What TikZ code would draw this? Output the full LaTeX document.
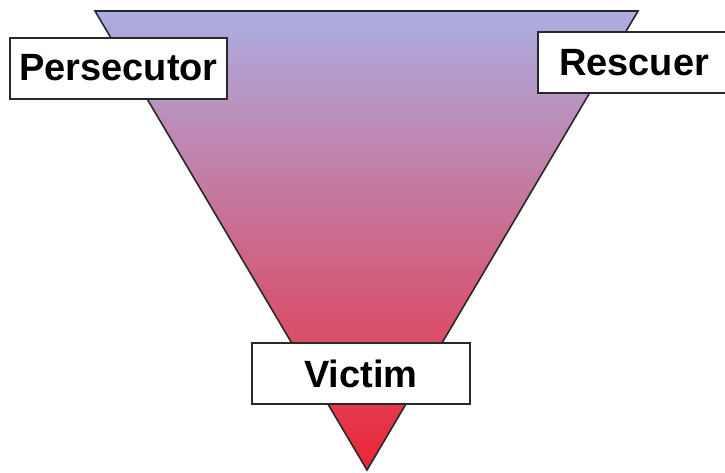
\documentclass[tikz,border=0pt]{standalone}
\usepackage{fontspec}
\setmainfont{Liberation Sans}
\definecolor{topc}{RGB}{172,174,226}
\definecolor{botc}{RGB}{236,38,54}
\definecolor{edge}{RGB}{40,40,40}
\begin{document}
\begin{tikzpicture}[x=1pt,y=-1pt,
  rolebox/.style={draw=edge,line width=2pt,fill=white,inner sep=0pt,font=\fontsize{38}{40}\selectfont\bfseries},
]
\useasboundingbox (0,0) rectangle (725,472);
\coordinate (tl) at (95,11);
\coordinate (tr) at (638,11);
\coordinate (ap) at (367,470);
\shade[top color=topc,bottom color=botc] (tl) -- (tr) -- (ap) -- cycle;
\draw[edge,line width=1.6pt,line join=miter] (tl) -- (tr) -- (ap) -- cycle;
\node[rolebox,minimum width=217pt,minimum height=61pt] (pers) at (118.5,68) {Persecutor};
\node[rolebox,minimum width=192pt,minimum height=61pt,anchor=west,text width=192pt,align=left] (resc) at (537,62.5) {\hspace*{21pt}Rescuer};
\node[rolebox,minimum width=218pt,minimum height=61pt] (vict) at (361,373.5) {Victim};
\end{tikzpicture}
\end{document}
